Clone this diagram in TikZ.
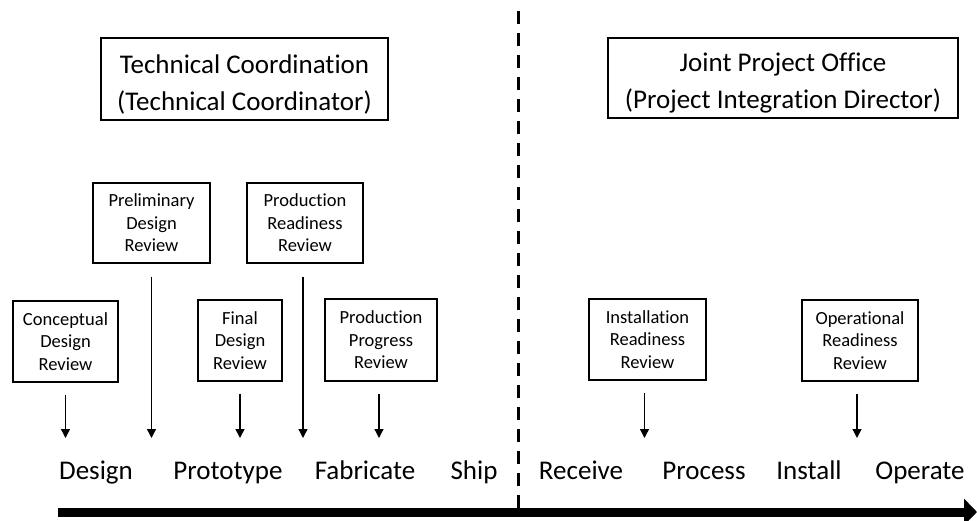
\documentclass[tikz,border=0pt]{standalone}
\usepackage{fontspec}
\setmainfont[Ligatures={NoCommon}]{Carlito}
\usetikzlibrary{arrows.meta,calc}
\begin{document}
\begin{tikzpicture}[x=1pt,y=-1pt,
  titlebox/.style={draw, line width=1.6pt, inner sep=0pt, align=center,
    font=\fontsize{27}{37}\selectfont},
  revbox/.style={draw, line width=1.4pt, inner sep=0pt, align=center,
    font=\fontsize{18.5}{22.5}\selectfont},
  phase/.style={anchor=base, inner sep=0pt, font=\fontsize{27}{32}\selectfont},
  arr/.style={line width=1.3pt, -{Triangle[width=9pt,length=9pt]}},
  divider/.style={line width=3pt, dash pattern=on 13pt off 9pt},
  timeline/.style={line width=9pt, -{Triangle[width=26pt,length=13pt]}}
]
\useasboundingbox (0,0) rectangle (977,521);

% title boxes
\node[titlebox, minimum width=287pt, minimum height=82pt] (tc) at (244.5,79)
  {\rule{0pt}{29pt}Technical Coordination\\(Technical Coordinator)};
\node[titlebox, minimum width=350pt, minimum height=80pt] (jpo) at (783,78)
  {\rule{0pt}{29pt}Joint Project Office\\(Project Integration Director)};

% review boxes
\node[revbox, minimum width=105pt, minimum height=81pt] (cdr) at (65.5,341.5)
  {Conceptual\\Design\\Review};
\node[revbox, minimum width=117pt, minimum height=80pt] (pdr) at (151.5,223)
  {Preliminary\\Design\\Review};
\node[revbox, minimum width=116pt, minimum height=80pt] (prr) at (305,223)
  {Production\\Readiness\\Review};
\node[revbox, minimum width=84pt, minimum height=81pt] (fdr) at (240,340.5)
  {Final\\Design\\Review};
\node[revbox, minimum width=112pt, minimum height=82pt] (ppr) at (381,340)
  {Production\\Progress\\Review};
\node[revbox, minimum width=117pt, minimum height=81pt] (irr) at (647.5,339.5)
  {Installation\\Readiness\\Review};
\node[revbox, minimum width=116pt, minimum height=81pt] (orr) at (860,340.5)
  {Operational\\Readiness\\Review};

% phase labels
\node[phase] (design) at (96,479) {Design};
\node[phase] (proto) at (228,479) {Prototype};
\node[phase] (fab) at (365,479) {Fabricate};
\node[phase] (ship) at (474,479) {Ship};
\node[phase] (recv) at (581,479) {Receive};
\node[phase] (proc) at (704,479) {Process};
\node[phase] (inst) at (809,479) {Install};
\node[phase] (oper) at (920,479) {Operate};

% arrow tips level
\coordinate (tipline) at (0,438);

\draw[arr] ([yshift=-12pt]cdr.south) -- (cdr.south |- tipline);
\draw[arr] ([yshift=-13pt]pdr.south) -- (pdr.south |- tipline);
\draw[arr] ([yshift=-12pt]fdr.south) -- (fdr.south |- tipline);
\draw[arr] ([xshift=-2pt,yshift=-13pt]prr.south) -- ([xshift=-2pt]prr.south |- tipline);
\draw[arr] ([xshift=-2pt,yshift=-12pt]ppr.south) -- ([xshift=-2pt]ppr.south |- tipline);
\draw[arr] ([xshift=-3pt,yshift=-12pt]irr.south) -- ([xshift=-3pt]irr.south |- tipline);
\draw[arr] ([xshift=-3pt,yshift=-12pt]orr.south) -- ([xshift=-3pt]orr.south |- tipline);

% divider
\coordinate (dtop) at (518,11);
\coordinate (dbot) at (518,510);
\draw[divider] (dtop) -- (dbot);

% timeline
\coordinate (tstart) at (58,512);
\coordinate (tend) at (977,512);
\draw[timeline] (tstart) -- (tend);
\end{tikzpicture}
\end{document}
